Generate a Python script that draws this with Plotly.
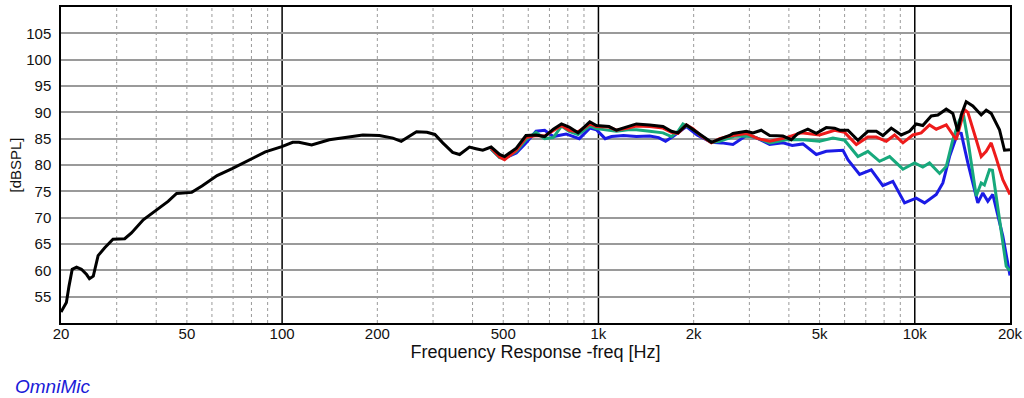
import plotly.graph_objects as go

# ---- data ----
black_f = [20, 20.8, 21.2, 21.7, 22.4, 23.2, 24.1, 24.6, 25.3, 26.2, 27.5, 29.2, 31.8, 33.4, 36.4, 39.6,
           43.6, 46.4, 51.8, 55.8, 62.3, 69.5, 78.5, 88.5, 99.8, 108, 113, 124, 141, 159, 180, 203, 224,
           238, 254, 266, 287, 304, 322, 346, 364, 391, 410, 431, 458, 487, 505, 550, 590, 635, 676, 720,
           764, 808, 862, 939, 985, 1080, 1140, 1240, 1318, 1452, 1600, 1701, 1784, 1897, 1990, 2116,
           2275, 2416, 2598, 2662, 2935, 3079, 3272, 3478, 3830, 4070, 4271, 4592, 4884, 5252, 5580,
           5786, 6146, 6610, 7107, 7558, 7927, 8427, 9064, 9628, 10105, 10601, 11274, 11830, 12573,
           13192, 13680, 14022, 14542, 15258, 16219, 16820, 17442, 18528, 19213, 20000]
black_db = [52.1, 53.9, 57.0, 60.2, 60.6, 60.2, 59.2, 58.4, 58.9, 62.8, 64.3, 65.9, 66.0, 67.1, 69.6, 71.2,
            73.1, 74.6, 74.8, 76.0, 78.0, 79.3, 80.9, 82.5, 83.5, 84.3, 84.3, 83.8, 84.8, 85.3, 85.7, 85.6,
            85.1, 84.5, 85.6, 86.3, 86.2, 85.8, 84.2, 82.4, 82.0, 83.4, 83.1, 82.8, 83.4, 82.0, 81.6, 83.2,
            85.6, 85.7, 85.4, 86.8, 87.8, 87.2, 86.1, 88.2, 87.5, 87.3, 86.6, 87.3, 87.8, 87.6, 87.3, 86.4,
            86.1, 87.6, 86.7, 85.6, 84.3, 84.9, 85.6, 86.0, 86.4, 86.1, 86.6, 85.6, 85.5, 84.8, 86.0, 86.8,
            86.0, 87.1, 87.0, 86.6, 86.6, 84.7, 86.4, 86.4, 85.6, 87.0, 85.7, 86.4, 87.8, 87.5, 89.3, 89.5,
            90.6, 89.8, 86.4, 89.5, 92.0, 91.2, 89.5, 90.4, 89.8, 86.7, 82.8, 82.9]

red_f = [458, 487, 505, 550, 590, 635, 676, 720, 764, 808, 862, 939, 985, 1080, 1140, 1240, 1318, 1452,
         1600, 1701, 1784, 1897, 1990, 2116, 2275, 2416, 2598, 2935, 3194, 3478, 3926, 4378, 5002, 5580,
         6000, 6535, 7107, 7558, 8125, 8633, 9172, 9860, 10480, 11134, 11692, 12573, 13522, 14362, 14716,
         15640, 16219, 16820, 17442, 18090, 18980, 20000]
red_db = [83.2, 81.5, 81.0, 82.8, 85.2, 85.6, 85.5, 86.5, 87.5, 86.6, 86.3, 87.8, 87.3, 87.2, 86.6, 87.0,
          87.4, 87.3, 87.0, 86.2, 86.0, 87.6, 86.9, 85.5, 84.2, 85.0, 85.5, 86.0, 85.0, 84.5, 85.2, 86.1,
          85.7, 86.6, 86.2, 83.9, 85.3, 85.3, 84.5, 85.7, 84.2, 85.7, 86.1, 87.6, 86.8, 87.6, 84.8, 90.5,
          90.0, 84.8, 81.6, 82.6, 84.2, 81.3, 77.2, 74.4]

green_f = [458, 487, 505, 550, 590, 635, 676, 720, 764, 808, 862, 939, 985, 1080, 1140, 1240, 1318, 1452,
           1600, 1701, 1784, 1850, 1990, 2116, 2275, 2416, 2700, 3079, 3478, 3926, 4430, 5002, 5510, 6000,
           6610, 7107, 7738, 8326, 9172, 9984, 10601, 11134, 11980, 12573, 13192, 13850, 14260, 14716,
           15640, 16219, 16600, 17228, 17600, 18528, 19454, 20000]
green_db = [83.0, 81.4, 81.2, 82.6, 84.8, 86.2, 85.0, 85.2, 87.4, 86.4, 85.8, 87.4, 86.9, 86.6, 86.4, 86.7,
            86.7, 86.4, 86.1, 85.4, 86.4, 87.8, 86.8, 85.5, 84.3, 84.5, 85.5, 85.4, 84.2, 84.8, 84.8, 84.5,
            85.1, 84.7, 81.6, 82.6, 80.7, 81.6, 79.2, 80.4, 79.6, 80.4, 78.4, 79.7, 84.8, 88.6, 89.5, 84.8,
            74.1, 76.6, 76.2, 79.1, 79.0, 69.7, 60.8, 59.9]

blue_f = [458, 487, 505, 550, 590, 635, 676, 720, 790, 870, 939, 985, 1050, 1100, 1200, 1318, 1452, 1550,
          1630, 1720, 1897, 2050, 2275, 2450, 2662, 2935, 3150, 3478, 3830, 4100, 4430, 4884, 5252, 5930,
          6146, 6692, 7286, 7927, 8526, 9284, 10105, 10740, 11692, 12270, 12880, 13680, 14022, 14716,
          15822, 16410, 17020, 17648, 18980, 20000]
blue_db = [83.0, 81.5, 81.3, 82.3, 84.2, 86.4, 86.6, 85.4, 85.9, 85.0, 87.0, 86.7, 85.0, 85.4, 85.6, 85.4,
           85.5, 85.2, 84.5, 85.4, 87.3, 85.7, 84.3, 84.2, 83.9, 85.6, 85.2, 83.9, 84.2, 83.7, 84.0, 82.0,
           82.6, 82.8, 81.0, 78.2, 79.1, 76.1, 76.9, 72.8, 73.7, 72.8, 74.4, 76.6, 81.6, 86.1, 86.0, 80.4,
           72.8, 74.7, 73.1, 74.4, 66.5, 59.0]

x_tickvals = [20, 50, 100, 200, 500, 1000, 2000, 5000, 10000, 20000]
x_ticktext = ["20", "50", "100", "200", "500", "1k", "2k", "5k", "10k", "20k"]
y_tickvals = [55, 60, 65, 70, 75, 80, 85, 90, 95, 100, 105]
minor_freqs = [30, 40, 50, 60, 70, 80, 90, 200, 300, 400, 500, 600, 700, 800, 900,
               2000, 3000, 4000, 5000, 6000, 7000, 8000, 9000]
major_freqs = [100, 1000, 10000]

FONT = "Liberation Sans, Arial, Helvetica, sans-serif"

fig = go.Figure()
for f, d, c in [(blue_f, blue_db, "#1b1be6"), (green_f, green_db, "#17a97c"),
                (red_f, red_db, "#ee1b1b"), (black_f, black_db, "#000000")]:
    fig.add_trace(go.Scatter(x=f, y=d, mode="lines", line=dict(color=c, width=3),
                             showlegend=False, hoverinfo="skip"))

for fr in minor_freqs:
    fig.add_shape(type="line", xref="x", yref="paper", x0=fr, x1=fr, y0=0, y1=1,
                  line=dict(color="#9a9a9a", width=1, dash="dot"), layer="below")
for fr in major_freqs:
    fig.add_shape(type="line", xref="x", yref="paper", x0=fr, x1=fr, y0=0, y1=1,
                  line=dict(color="#000000", width=1.5), layer="below")

fig.update_layout(
    width=1024, height=398,
    margin=dict(l=61, r=14, t=7, b=75, autoexpand=False),
    paper_bgcolor="white", plot_bgcolor="white",
    font=dict(family=FONT, size=15, color="#111111"),
    xaxis=dict(type="log", range=[1.30103, 4.30103], tickvals=x_tickvals, ticktext=x_ticktext,
               showgrid=False, zeroline=False, showline=True, linecolor="black", linewidth=1.5,
               mirror=True, ticks="", ticklen=0, tickfont=dict(size=15), ticklabelstandoff=-4,
               ticklabeloverflow="allow",
               title=dict(text="Frequency Response -freq [Hz]", font=dict(size=18), standoff=4)),
    yaxis=dict(range=[50, 110], tickvals=y_tickvals, showgrid=True, gridcolor="#9a9a9a",
               gridwidth=2, zeroline=False, showline=True, linecolor="black", linewidth=1.5,
               mirror=True, ticks="", ticklen=0, tickfont=dict(size=15), ticklabelstandoff=5,
               title=dict(text="[dBSPL]", font=dict(size=15), standoff=1)),
    annotations=[dict(text="<i>OmniMic</i>", xref="paper", yref="paper", x=-0.0506, y=-0.2,
                      xanchor="left", yanchor="middle", showarrow=False,
                      font=dict(family=FONT, size=19, color="#1a1ad8"))],
)

fig.write_html("out.html", config={"displayModeBar": False},
               post_script="document.body.style.margin='0px';document.body.style.overflow='hidden';")
